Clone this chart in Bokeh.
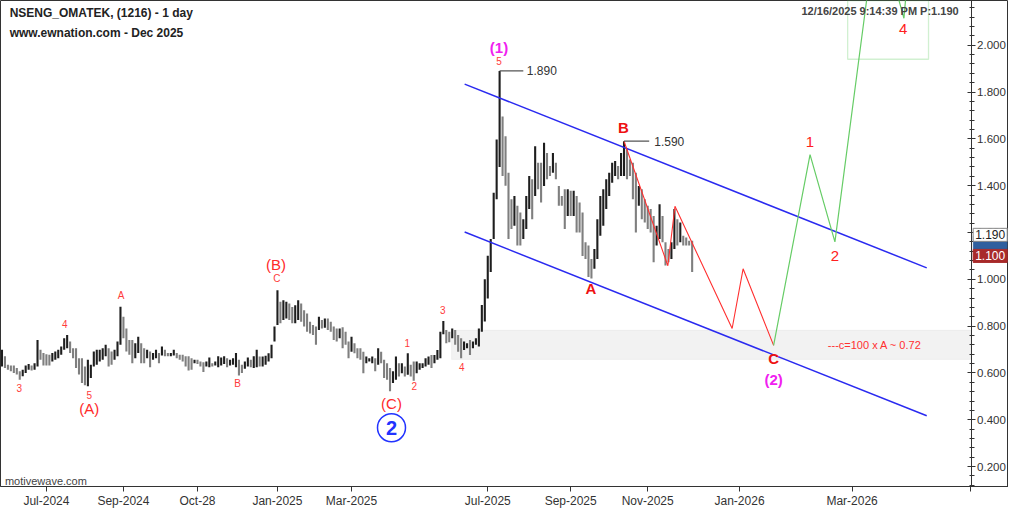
from bokeh.plotting import figure
from bokeh.models import ColumnDataSource, FixedTicker, Label, BoxAnnotation, PrintfTickFormatter, Range1d
from bokeh.core.properties import value
from bokeh.embed import file_html
from bokeh.resources import INLINE

FONT = "Liberation Sans"

# ---------------- data ----------------
bar_high = [
    0.699, 0.671, 0.635, 0.632, 0.632, 0.621, 0.607, 0.614, 0.632, 0.638,
    0.632, 0.642, 0.741, 0.699, 0.685, 0.680, 0.678, 0.685, 0.692, 0.699,
    0.713, 0.748, 0.762, 0.734, 0.706, 0.706, 0.663, 0.663, 0.628, 0.656,
    0.635, 0.692, 0.699, 0.699, 0.706, 0.720, 0.706, 0.692, 0.699, 0.734,
    0.883, 0.840, 0.790, 0.741, 0.741, 0.727, 0.755, 0.727, 0.706, 0.699,
    0.692, 0.685, 0.699, 0.685, 0.713, 0.699, 0.685, 0.685, 0.699, 0.685,
    0.678, 0.678, 0.671, 0.671, 0.663, 0.656, 0.656, 0.649, 0.646, 0.649,
    0.666, 0.642, 0.649, 0.671, 0.666, 0.671, 0.663, 0.656, 0.663, 0.685,
    0.656, 0.635, 0.649, 0.666, 0.656, 0.671, 0.699, 0.670, 0.670, 0.674,
    0.684, 0.720, 0.798, 0.953, 0.904, 0.911, 0.904, 0.897, 0.882, 0.889,
    0.911, 0.897, 0.868, 0.854, 0.819, 0.805, 0.798, 0.840, 0.826, 0.833,
    0.833, 0.819, 0.798, 0.790, 0.790, 0.795, 0.776, 0.734, 0.755, 0.727,
    0.706, 0.706, 0.691, 0.670, 0.663, 0.670, 0.663, 0.706, 0.691, 0.656,
    0.642, 0.621, 0.607, 0.670, 0.642, 0.642, 0.628, 0.684, 0.635, 0.649,
    0.649, 0.642, 0.642, 0.663, 0.670, 0.677, 0.677, 0.698, 0.776, 0.822,
    0.783, 0.776, 0.790, 0.783, 0.762, 0.748, 0.734, 0.727, 0.741, 0.734,
    0.748, 0.790, 0.890, 1.000, 1.101, 1.172, 1.370, 1.597, 1.890, 1.696,
    1.611, 1.455, 1.342, 1.356, 1.314, 1.285, 1.257, 1.356, 1.441, 1.427,
    1.568, 1.498, 1.498, 1.583, 1.540, 1.484, 1.540, 1.498, 1.399, 1.356,
    1.385, 1.385, 1.378, 1.378, 1.356, 1.328, 1.285, 1.158, 1.144, 1.087,
    1.130, 1.257, 1.356, 1.385, 1.427, 1.455, 1.498, 1.505, 1.484, 1.540,
    1.590, 1.561, 1.512, 1.498, 1.455, 1.399, 1.385, 1.342, 1.314, 1.300,
    1.271, 1.229, 1.321, 1.271, 1.158, 1.130, 1.158, 1.300, 1.257, 1.243,
    1.186, 1.179, 1.165, 1.165,
]
bar_low = [
    0.628, 0.621, 0.614, 0.607, 0.600, 0.593, 0.571, 0.586, 0.600, 0.614,
    0.610, 0.614, 0.628, 0.656, 0.632, 0.632, 0.632, 0.649, 0.656, 0.663,
    0.678, 0.699, 0.706, 0.685, 0.663, 0.621, 0.593, 0.557, 0.547, 0.543,
    0.579, 0.628, 0.635, 0.649, 0.656, 0.671, 0.628, 0.635, 0.656, 0.671,
    0.720, 0.748, 0.692, 0.678, 0.642, 0.663, 0.685, 0.642, 0.642, 0.663,
    0.624, 0.656, 0.663, 0.642, 0.675, 0.671, 0.671, 0.671, 0.675, 0.663,
    0.656, 0.649, 0.628, 0.610, 0.614, 0.642, 0.638, 0.628, 0.604, 0.628,
    0.624, 0.628, 0.632, 0.624, 0.632, 0.638, 0.624, 0.632, 0.635, 0.624,
    0.589, 0.600, 0.618, 0.628, 0.624, 0.621, 0.624, 0.628, 0.628, 0.635,
    0.649, 0.663, 0.734, 0.805, 0.812, 0.826, 0.833, 0.826, 0.812, 0.812,
    0.826, 0.819, 0.798, 0.776, 0.769, 0.762, 0.720, 0.783, 0.790, 0.793,
    0.783, 0.776, 0.741, 0.734, 0.748, 0.706, 0.720, 0.663, 0.691, 0.684,
    0.663, 0.656, 0.599, 0.642, 0.649, 0.642, 0.607, 0.635, 0.642, 0.578,
    0.571, 0.522, 0.557, 0.571, 0.585, 0.599, 0.585, 0.592, 0.585, 0.567,
    0.599, 0.614, 0.621, 0.628, 0.635, 0.621, 0.642, 0.656, 0.663, 0.765,
    0.727, 0.731, 0.748, 0.720, 0.691, 0.663, 0.698, 0.706, 0.677, 0.706,
    0.720, 0.713, 0.776, 0.820, 0.918, 1.031, 1.172, 1.342, 1.480, 1.441,
    1.400, 1.172, 1.215, 1.229, 1.144, 1.144, 1.172, 1.215, 1.300, 1.257,
    1.356, 1.385, 1.328, 1.399, 1.427, 1.441, 1.455, 1.427, 1.314, 1.314,
    1.215, 1.270, 1.270, 1.270, 1.200, 1.200, 1.100, 1.087, 1.010, 1.003,
    1.045, 1.087, 1.186, 1.229, 1.300, 1.356, 1.413, 1.441, 1.427, 1.441,
    1.441, 1.427, 1.441, 1.342, 1.200, 1.314, 1.257, 1.243, 1.215, 1.200,
    1.073, 1.144, 1.172, 1.158, 1.059, 1.073, 1.087, 1.130, 1.144, 1.158,
    1.144, 1.144, 1.144, 1.031,
]
bar_idx = list(range(len(bar_high)))

tick_idx = [15, 41, 66, 93, 118, 164, 192, 218, 249, 287, 327]
tick_labels = ["Jul-2024", "Sep-2024", "Oct-28", "Jan-2025", "Mar-2025",
               "Jul-2025", "Sep-2025", "Nov-2025", "Jan-2026", "Mar-2026", ""]
price_ticks = [0.2, 0.4, 0.6, 0.8, 1.0, 1.2, 1.4, 1.6, 1.8, 2.0]
axis_at = 327.17          # bar index where the price scale is drawn

# channel (start/end index, upper and lower prices)
channel_x = [156.2, 312.2]
channel_upper = [1.834, 1.049]
channel_lower = [1.202, 0.417]

# projected paths
red_x = [210, 224.8, 227.2, 246.5, 250.2, 260.5]
red_y = [1.59, 1.058, 1.312, 0.79, 1.045, 0.718]
green_x = [260.5, 272.8, 281.2, 295.4, 304.5, 307.8]
green_y = [0.718, 1.533, 1.16, 2.53, 2.115, 2.6]

band_start, band_low, band_high = 151.8, 0.658, 0.782
box_left, box_right, box_bottom = 285.5, 312.8, 1.94

peak_idx, peak_price = 168, 1.890
b_idx, b_price = 210, 1.590
last_price, close_price = 1.190, 1.100

# wave labels
big_txt, big_x, big_y = ["B", "A", "C"], [209.8, 198.8, 260.5], [1.648, 0.96, 0.663]
mag_txt, mag_x, mag_y = ["(1)", "(2)"], [167.8, 260.5], [1.99, 0.574]
par_txt, par_x, par_y = ["(A)", "(B)", "(C)"], [29.5, 92.5, 131.5], [0.447, 1.062, 0.468]
proj_txt, proj_x, proj_y = ["1", "2", "4"], [272.8, 281.2, 304.2], [1.588, 1.10, 2.068]
small_txt = ["3", "4", "5", "A", "B", "C", "1", "2", "3", "4", "5"]
small_x = [5.8, 21.2, 29.5, 40.2, 79.5, 92.8, 136.8, 139.2, 148.8, 155.2, 167.8]
small_y = [0.536, 0.811, 0.506, 0.93, 0.557, 1.0025, 0.727, 0.544, 0.871, 0.625, 1.932]
circ_x, circ_y = [131.5], [0.366]

# ---------------- figure ----------------
p = figure(width=1008, height=510, x_range=Range1d(-0.5, 339.8), y_range=Range1d(0.115, 2.191),
           y_axis_location="right", output_backend="svg", toolbar_location=None,
           min_border_left=0, min_border_top=0, min_border_right=0, min_border_bottom=0)
p.background_fill_color = "white"
p.border_fill_color = "white"
p.outline_line_color = "#333333"
p.xgrid.grid_line_color = None
p.ygrid.grid_line_color = None

p.yaxis.axis_label = None
p.xaxis.axis_label = None
p.yaxis.fixed_location = axis_at
p.yaxis.ticker = FixedTicker(ticks=price_ticks,
                             minor_ticks=[round(0.04 * i, 2) for i in range(0, 56)])
p.yaxis.formatter = PrintfTickFormatter(format="%.3f")
p.yaxis.major_tick_in = 4
p.yaxis.major_tick_out = 4
p.yaxis.minor_tick_in = 2
p.yaxis.minor_tick_out = 3
p.yaxis.axis_line_color = "#333333"
p.yaxis.major_tick_line_color = "#333333"
p.yaxis.minor_tick_line_color = "#333333"
p.yaxis.major_label_text_font = FONT
p.yaxis.major_label_text_font_size = "11.5px"
p.yaxis.major_label_text_color = "#333333"
p.yaxis.major_label_standoff = 2

p.xaxis.ticker = FixedTicker(ticks=tick_idx)
p.xaxis.major_label_overrides = {t: l for t, l in zip(tick_idx, tick_labels)}
p.xaxis.major_tick_in = 0
p.xaxis.major_tick_out = 5
p.xaxis.minor_tick_line_color = None
p.xaxis.axis_line_color = "#333333"
p.xaxis.major_tick_line_color = "#333333"
p.xaxis.major_label_text_font = FONT
p.xaxis.major_label_text_font_size = "12px"
p.xaxis.major_label_text_color = "#333333"
p.xaxis.major_label_standoff = 2

# target band
p.add_layout(BoxAnnotation(left=band_start, right=axis_at, bottom=band_low, top=band_high,
                           fill_color="#f2f2f2", fill_alpha=1.0, line_color="#d9d9d9",
                           line_width=1, level="underlay"))

# bars
colors = []
for i in bar_idx:
    mid = (bar_high[i] + bar_low[i]) / 2
    prev = (bar_high[i - 1] + bar_low[i - 1]) / 2 if i > 0 else mid
    colors.append("#1e1e1e" if mid >= prev else "#7f7f7f")
src = ColumnDataSource(dict(x=bar_idx, high=bar_high, low=bar_low, color=colors))
p.segment(x0="x", y0="low", x1="x", y1="high", line_color="color", line_width=2.1, source=src)

# channel
p.line(channel_x, channel_upper, line_color="#2a2af0", line_width=1.5)
p.line(channel_x, channel_lower, line_color="#2a2af0", line_width=1.5)

# projections
p.line(red_x, red_y, line_color="#ff3030", line_width=1.1)
p.line(green_x, green_y, line_color="#66cc66", line_width=1.2)
p.add_layout(BoxAnnotation(left=box_left, right=box_right, bottom=box_bottom,
                           fill_alpha=0.0, line_color="#66cc66", line_width=1.3))

# high markers
p.line([peak_idx, peak_idx + 8], [peak_price, peak_price], line_color="#555555", line_width=1.2)
p.line([b_idx, b_idx + 8.5], [b_price, b_price], line_color="#555555", line_width=1.2)
p.text([peak_idx + 9.2], [peak_price], text=["%.3f" % peak_price], text_font=value(FONT),
       text_font_size="12px", text_color="#333333", text_baseline="middle", text_align="left")
p.text([b_idx + 10.2], [b_price], text=["%.3f" % b_price], text_font=value(FONT),
       text_font_size="12px", text_color="#333333", text_baseline="middle", text_align="left")

# band label
p.text([278.8], [(band_low + band_high) / 2], text=["---c=100 x A ~ 0.72"], text_font=value(FONT),
       text_font_size="11px", text_color="#ff3030", text_baseline="middle", text_align="left")

# wave labels
def labels(xs, ys, txt, size, color, style="normal"):
    p.text(xs, ys, text=txt, text_font=value(FONT), text_font_size=size, text_color=color,
           text_font_style=style, text_align="center", text_baseline="middle")

labels(big_x, big_y, big_txt, "15px", "#ee1111", "bold")
labels(mag_x, mag_y, mag_txt, "15px", "#f020f0", "bold")
labels(par_x, par_y, par_txt, "15px", "#ff2a2a")
labels(proj_x, proj_y, proj_txt, "15px", "#ff2020")
labels(small_x, small_y, small_txt, "10px", "#ff3b3b")

p.scatter(circ_x, circ_y, marker="circle", size=28, fill_color="white",
          line_color="#2233ff", line_width=1.5)
labels(circ_x, circ_y, ["2"], "20px", "#2233ff", "bold")

# titles
p.add_layout(Label(x=2.6, y=2.166, text="NSENG_OMATEK, (1216) - 1 day", text_font=FONT,
                   text_font_size="12px", text_font_style="bold", text_color="#222222",
                   text_baseline="top"))
p.add_layout(Label(x=2.6, y=2.081, text="www.ewnation.com  - Dec 2025", text_font=FONT,
                   text_font_size="12px", text_font_style="bold", text_color="#222222",
                   text_baseline="top"))
p.add_layout(Label(x=324.0, y=2.17, text="12/16/2025 9:14:39 PM  P:%.3f" % last_price, text_font=FONT,
                   text_font_size="11px", text_font_style="bold", text_color="#444444",
                   text_baseline="top", text_align="right"))
p.add_layout(Label(x=1.0, y=0.14, text="motivewave.com", text_font=FONT,
                   text_font_size="11px", text_color="#444444", text_baseline="middle"))

# price tags beside the price scale
tag_x = axis_at + 0.7
p.add_layout(BoxAnnotation(left=tag_x, right=tag_x + 11.5, bottom=1.128, top=1.185,
                           fill_color="#2f5f9e", fill_alpha=1.0, line_color="#2f5f9e"))
p.add_layout(Label(x=tag_x, y=last_price, text="%.3f" % last_price,
                   text_font=FONT, text_font_size="12px", text_color="#222222",
                   text_baseline="middle", background_fill_color="white",
                   border_line_color="#888888", padding=2))
p.add_layout(Label(x=tag_x, y=close_price, text="%.3f" % close_price,
                   text_font=FONT, text_font_size="12px", text_color="white",
                   text_baseline="middle", background_fill_color="#a82a2a",
                   border_line_color="#a82a2a", padding=2))

open("out.html", "w").write(file_html(p, INLINE))
